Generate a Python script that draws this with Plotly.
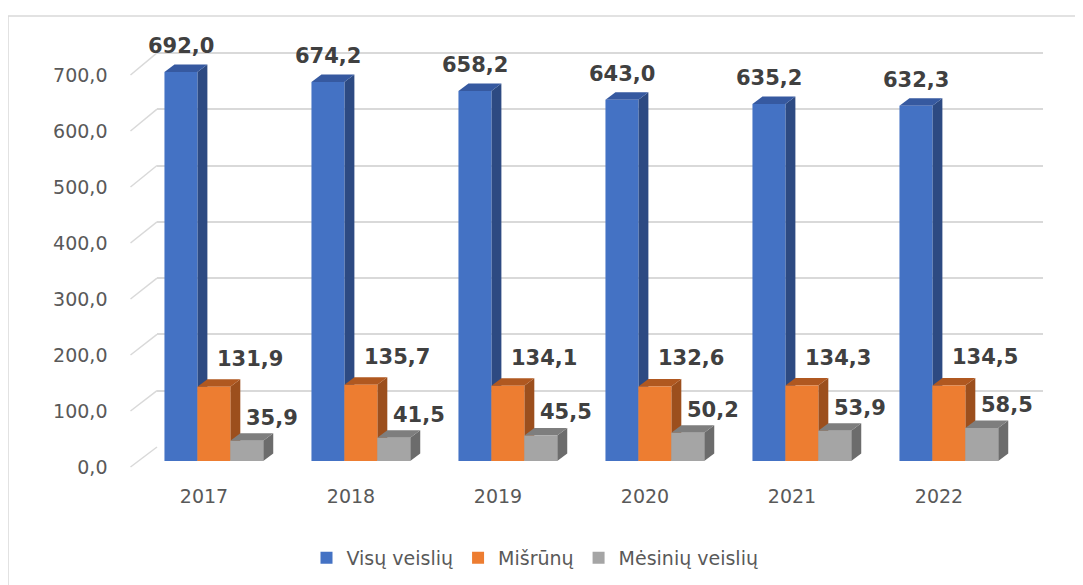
import plotly.graph_objects as go

# ---------------- data ----------------
years = ["2017", "2018", "2019", "2020", "2021", "2022"]
visu_veisliu = [692.0, 674.2, 658.2, 643.0, 635.2, 632.3]
misrunu = [131.9, 135.7, 134.1, 132.6, 134.3, 134.5]
mesiniu_veisliu = [35.9, 41.5, 45.5, 50.2, 53.9, 58.5]
series_names = ["Visų veislių", "Mišrūnų", "Mėsinių veislių"]
y_ticks = [0, 100, 200, 300, 400, 500, 600, 700]

# ---------------- layout constants (window pixels) ----------------
W, H = 1083, 585
BODY = 8                                      # default page body margin
FW, FH = W - BODY, H - BODY                   # figure size
PL, PR, PT, PB = 100, 1060, 12, 490           # plot area in window pixels
def px_x(px):
    return (px - PL) / (PR - PL)
def px_y(py):
    return (PB - py) / (PB - PT)

YMAX = 750
# front plane (bars)
F_LEFT, F_RIGHT, F_ZERO, F_SCALE = 130.5, 1012.5, 461, 0.562
# back wall (gridlines)
B_LEFT, B_RIGHT, B_ZERO, B_SCALE = 157, 1043, 447, 0.563
# tick-label plane
T_ZERO, T_SCALE = 467, 0.56

cat_px = (F_RIGHT - F_LEFT) / len(years)
DEPTH_DX = 10 / cat_px          # in category units
DEPTH_DY = 7.5 / F_SCALE        # in value units

colors = ["#4472C4", "#ED7D31", "#A5A5A5"]
side_colors = ["#2D4A82", "#9C4F1D", "#6C6C6C"]
top_colors = ["#3659A0", "#B05820", "#7E7E7E"]
offsets = [-0.269, -0.045, 0.179]
BAR_W = 0.224
label_xshift = [0, 36, 25]
label_yshift = [26, 28, 23]

FONT = "DejaVu Sans"
all_series = [visu_veisliu, misrunu, mesiniu_veisliu]
xs = list(range(len(years)))

fig = go.Figure()

# back wall subplot (gridlines) - invisible trace
fig.add_trace(go.Scatter(x=[0, 1], y=[0, 0], mode="markers", marker=dict(opacity=0),
                         showlegend=False, hoverinfo="skip", xaxis="x", yaxis="y"))

# front bars
for s, vals in enumerate(all_series):
    fig.add_trace(go.Bar(
        x=xs, y=vals, name=series_names[s],
        offset=offsets[s], width=BAR_W,
        marker=dict(color=colors[s], line=dict(width=0)),
        xaxis="x2", yaxis="y2",
    ))

# label axis subplot - invisible trace
fig.add_trace(go.Scatter(x=[0], y=[0], mode="markers", marker=dict(opacity=0),
                         showlegend=False, hoverinfo="skip", xaxis="x2", yaxis="y3"))

shapes = []
annotations = []

# 3D faces (side + top) derived from the values
for s, vals in enumerate(all_series):
    for i, v in enumerate(vals):
        x0 = i + offsets[s]
        x1 = x0 + BAR_W
        side = (f"M {x1},0 L {x1 + DEPTH_DX},{DEPTH_DY} L {x1 + DEPTH_DX},{v + DEPTH_DY} "
                f"L {x1},{v} Z")
        top = (f"M {x0},{v} L {x1},{v} L {x1 + DEPTH_DX},{v + DEPTH_DY} "
               f"L {x0 + DEPTH_DX},{v + DEPTH_DY} Z")
        shapes.append(dict(type="path", path=side, xref="x2", yref="y2",
                           fillcolor=side_colors[s], line=dict(width=0), layer="below"))
        shapes.append(dict(type="path", path=top, xref="x2", yref="y2",
                           fillcolor=top_colors[s], line=dict(width=0), layer="below"))
        annotations.append(dict(
            x=x0 + BAR_W / 2, y=v, xref="x2", yref="y2",
            text=f"{v:.1f}".replace(".", ","), showarrow=False,
            xanchor="center", yanchor="middle",
            xshift=label_xshift[s], yshift=label_yshift[s],
            font=dict(family=FONT, size=21, color="#404040", weight="bold"),
        ))

# diagonal connectors from tick plane to back wall
for t in y_ticks:
    shapes.append(dict(type="line", xref="paper", yref="paper",
                       x0=px_x(F_LEFT), y0=px_y(T_ZERO - t * T_SCALE),
                       x1=px_x(B_LEFT), y1=px_y(B_ZERO - t * B_SCALE),
                       line=dict(color="#D9D9D9", width=1.5), layer="below"))

# outer chart border
shapes.append(dict(type="rect", xref="paper", yref="paper",
                   x0=px_x(8), y0=px_y(16), x1=px_x(W + 10), y1=px_y(H + 10),
                   line=dict(color="#D9D9D9", width=1.5), layer="below"))

fig.update_layout(
    width=FW, height=FH,
    margin=dict(l=PL - BODY, r=FW - (PR - BODY), t=PT - BODY, b=FH - (PB - BODY),
                autoexpand=False),
    paper_bgcolor="white", plot_bgcolor="rgba(0,0,0,0)",
    separators=", ",
    font=dict(family=FONT, color="#595959"),
    barmode="overlay",
    shapes=shapes, annotations=annotations,
    xaxis=dict(domain=[px_x(B_LEFT), px_x(B_RIGHT)], range=[0, 1], visible=False,
               anchor="y"),
    yaxis=dict(domain=[px_y(B_ZERO), px_y(B_ZERO - YMAX * B_SCALE)], range=[0, YMAX],
               tickvals=y_ticks, showticklabels=False, showgrid=True,
               gridcolor="#D9D9D9", gridwidth=1.5, zeroline=False, showline=False,
               anchor="x"),
    xaxis2=dict(domain=[px_x(F_LEFT), px_x(F_RIGHT)], range=[-0.5, len(years) - 0.5],
                tickvals=xs, ticktext=years, showgrid=False, zeroline=False,
                showline=False, ticks="", ticklabelstandoff=22,
                tickfont=dict(family=FONT, size=19, color="#595959"), anchor="y2"),
    yaxis2=dict(domain=[px_y(F_ZERO), px_y(F_ZERO - YMAX * F_SCALE)], range=[0, YMAX],
                visible=False, anchor="x2"),
    yaxis3=dict(domain=[px_y(T_ZERO), px_y(T_ZERO - YMAX * T_SCALE)], range=[0, YMAX],
                tickvals=y_ticks, tickformat=".1f", showgrid=False, zeroline=False,
                showline=False, ticks="", ticklabelstandoff=22,
                tickfont=dict(family=FONT, size=19, color="#595959"), anchor="x2"),
    legend=dict(orientation="h", xanchor="center", yanchor="middle",
                x=px_x(535), y=px_y(558), bgcolor="rgba(0,0,0,0)",
                font=dict(family=FONT, size=19, color="#595959"),
                traceorder="normal", itemwidth=30),
    showlegend=True,
)

fig.write_html("out.html")
